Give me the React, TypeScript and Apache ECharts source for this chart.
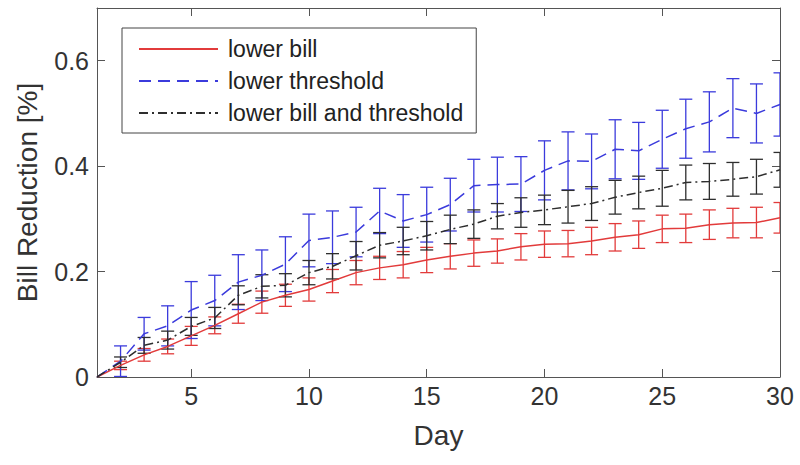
import React, { useEffect, useRef } from "react";
import * as echarts from "echarts";

const days = [1, 2, 3, 4, 5, 6, 7, 8, 9, 10, 11, 12, 13, 14, 15, 16, 17, 18, 19, 20, 21, 22, 23, 24, 25, 26, 27, 28, 29, 30];

const seriesNames = ["lower bill", "lower threshold", "lower bill and threshold"];

const redMean = [0, 0.022, 0.042, 0.058, 0.078, 0.098, 0.12, 0.142, 0.155, 0.166, 0.182, 0.198, 0.207, 0.213, 0.222, 0.229, 0.235, 0.239, 0.247, 0.252, 0.253, 0.258, 0.265, 0.27, 0.281, 0.282, 0.289, 0.292, 0.293, 0.302];
const redErr = [0, 0.008, 0.012, 0.014, 0.018, 0.016, 0.018, 0.021, 0.021, 0.022, 0.022, 0.023, 0.022, 0.025, 0.024, 0.024, 0.025, 0.023, 0.025, 0.025, 0.025, 0.026, 0.026, 0.026, 0.026, 0.027, 0.028, 0.028, 0.029, 0.029];

const blueMean = [0, 0.03, 0.082, 0.097, 0.127, 0.145, 0.18, 0.193, 0.214, 0.259, 0.265, 0.275, 0.315, 0.296, 0.308, 0.327, 0.363, 0.365, 0.366, 0.392, 0.41, 0.409, 0.432, 0.429, 0.451, 0.471, 0.484, 0.51, 0.5, 0.517];
const blueErr = [0, 0.029, 0.031, 0.038, 0.054, 0.048, 0.052, 0.048, 0.052, 0.05, 0.05, 0.047, 0.043, 0.05, 0.052, 0.05, 0.05, 0.052, 0.052, 0.056, 0.055, 0.052, 0.056, 0.054, 0.055, 0.056, 0.057, 0.056, 0.056, 0.06];

const blackMean = [0, 0.028, 0.06, 0.07, 0.096, 0.112, 0.155, 0.172, 0.174, 0.198, 0.21, 0.23, 0.25, 0.258, 0.268, 0.28, 0.29, 0.305, 0.312, 0.317, 0.323, 0.329, 0.341, 0.35, 0.358, 0.369, 0.371, 0.375, 0.38, 0.393];
const blackErr = [0, 0.01, 0.015, 0.017, 0.017, 0.02, 0.018, 0.022, 0.022, 0.023, 0.024, 0.027, 0.024, 0.026, 0.027, 0.027, 0.027, 0.024, 0.028, 0.028, 0.031, 0.032, 0.032, 0.031, 0.034, 0.033, 0.034, 0.032, 0.033, 0.033];

const xTicks = [5, 10, 15, 20, 25, 30];
const yTicks = [0, 0.2, 0.4, 0.6];

const RED = "#e23b3b";
const BLUE = "#3b3bdc";
const BLACK = "#2e2e2e";
const FONT = "'Liberation Sans', Arial, Helvetica, sans-serif";
const AXIS = "#555555";

function lineSeries(name: string, mean: number[], color: string, type: any) {
  return {
    name,
    type: "line",
    data: days.map((d, i) => [d, mean[i]]),
    symbol: "none",
    lineStyle: { color, width: 1.5, type },
    itemStyle: { color },
    z: 3,
  };
}

function errSeries(name: string, mean: number[], err: number[], color: string) {
  const data = days
    .map((d, i) => [d, mean[i] - err[i], mean[i] + err[i], err[i]])
    .filter((r) => r[3] > 0);
  return {
    name: name + " error",
    type: "custom",
    data,
    encode: { x: 0, y: [1, 2] },
    clip: true,
    z: 2,
    renderItem: (_params: any, api: any) => {
      const x = api.value(0);
      const pLo = api.coord([x, api.value(1)]);
      const pHi = api.coord([x, api.value(2)]);
      const w = 6.5;
      const style = { stroke: color, lineWidth: 1.3, fill: null };
      return {
        type: "group",
        children: [
          { type: "line", shape: { x1: pLo[0], y1: pLo[1], x2: pHi[0], y2: pHi[1] }, style },
          { type: "line", shape: { x1: pLo[0] - w, y1: pLo[1], x2: pLo[0] + w, y2: pLo[1] }, style },
          { type: "line", shape: { x1: pHi[0] - w, y1: pHi[1], x2: pHi[0] + w, y2: pHi[1] }, style },
        ],
      };
    },
  };
}

export default function App() {
  const ref = useRef<HTMLDivElement>(null);
  useEffect(() => {
    if (!ref.current) return;
    const chart = echarts.init(ref.current, null, { renderer: "svg" });
    const axisCommon = {
      axisLine: { show: true, onZero: false, lineStyle: { color: AXIS, width: 1 } },
      splitLine: { show: false },
    };
    chart.setOption({
      animation: false,
      backgroundColor: "#ffffff",
      textStyle: { fontFamily: FONT },
      grid: { left: 97, right: 20, top: 8, bottom: 88, containLabel: false },
      legend: {
        data: seriesNames,
        orient: "vertical",
        left: 122,
        top: 28,
        itemWidth: 79,
        itemHeight: 24,
        itemGap: 8,
        padding: [9, 13, 8, 16],
        borderColor: "#444",
        borderWidth: 1,
        backgroundColor: "#ffffff",
        selectedMode: false,
        itemStyle: { color: "rgba(0,0,0,0)", borderColor: "rgba(0,0,0,0)", borderWidth: 0, opacity: 0 },
        textStyle: { fontSize: 23, color: "#222", fontFamily: FONT, lineHeight: 24, padding: [0, 0, 0, 5] },
      },
      xAxis: [
        {
          type: "value",
          min: 1,
          max: 30,
          position: "bottom",
          ...axisCommon,
          axisTick: { show: true, inside: true, length: 8, lineStyle: { color: AXIS }, customValues: xTicks },
          axisLabel: { show: true, customValues: xTicks, fontSize: 25, color: "#333", margin: 6, fontFamily: FONT },
          name: "Day",
          nameLocation: "middle",
          nameGap: 44,
          nameTextStyle: { fontSize: 28, color: "#333", fontFamily: FONT },
        },
        {
          type: "value",
          min: 1,
          max: 30,
          position: "top",
          ...axisCommon,
          axisTick: { show: true, inside: true, length: 8, lineStyle: { color: AXIS }, customValues: xTicks },
          axisLabel: { show: false },
        },
      ],
      yAxis: [
        {
          type: "value",
          min: 0,
          max: 0.7,
          position: "left",
          ...axisCommon,
          axisTick: { show: true, inside: true, length: 8, lineStyle: { color: AXIS }, customValues: yTicks },
          axisLabel: { show: true, customValues: yTicks, fontSize: 25, color: "#333", margin: 8, fontFamily: FONT },
          name: "Bill Reduction [%]",
          nameLocation: "middle",
          nameGap: 56,
          nameTextStyle: { fontSize: 28, color: "#333", fontFamily: FONT },
        },
        {
          type: "value",
          min: 0,
          max: 0.7,
          position: "right",
          ...axisCommon,
          axisTick: { show: true, inside: true, length: 8, lineStyle: { color: AXIS }, customValues: yTicks },
          axisLabel: { show: false },
        },
      ],
      series: [
        errSeries(seriesNames[0], redMean, redErr, RED),
        lineSeries(seriesNames[0], redMean, RED, "solid"),
        errSeries(seriesNames[1], blueMean, blueErr, BLUE),
        lineSeries(seriesNames[1], blueMean, BLUE, [12, 7]),
        errSeries(seriesNames[2], blackMean, blackErr, BLACK),
        lineSeries(seriesNames[2], blackMean, BLACK, [9, 4, 2, 4]),
      ],
    });
    return () => chart.dispose();
  }, []);
  return (
    <div
      ref={ref}
      style={{ position: "absolute", left: 0, top: 0, width: 800, height: 465, background: "#fff" }}
    />
  );
}
